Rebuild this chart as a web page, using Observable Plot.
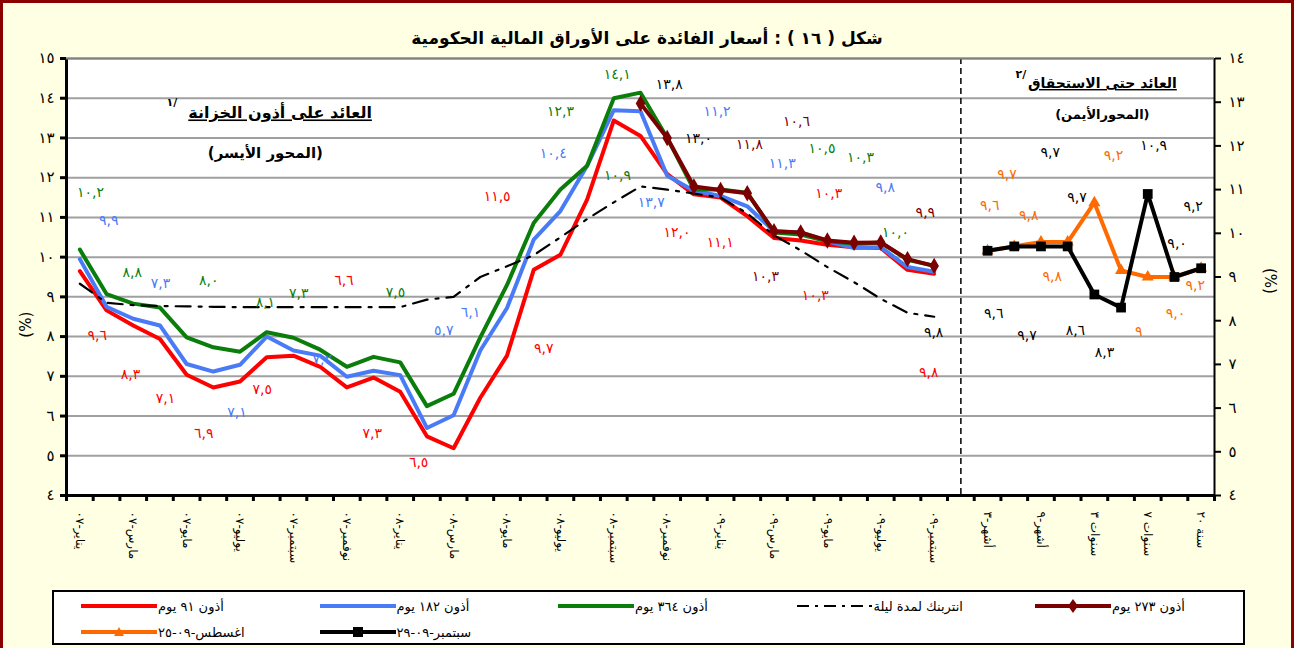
<!DOCTYPE html>
<html><head><meta charset="utf-8">
<script src="https://cdn.jsdelivr.net/npm/d3@7"></script>
<script src="https://cdn.jsdelivr.net/npm/@observablehq/plot@0.6"></script>
<style>
body{margin:0;background:#fff;}
#bg{position:absolute;left:0;top:0;width:1294px;height:648px;box-sizing:border-box;background:#FFFFE3;border:3px solid #8B0000;border-bottom:none;}
#title{position:absolute;left:0;top:27px;width:1294px;text-align:center;font:bold 17px "DejaVu Sans",sans-serif;line-height:22px;direction:rtl;}
#chart{position:absolute;left:0;top:50px;}
#legend{position:absolute;left:52px;top:590px;width:1193px;height:55px;box-sizing:border-box;border:2px solid #000;background:#fff;font:13px "DejaVu Sans",sans-serif;}
.item{position:absolute;height:16px;display:flex;align-items:center;white-space:nowrap;}
.item span{direction:rtl;}
</style></head><body>
<div id="bg"></div>
<div id="title">شكل ( ١٦ ) : أسعار الفائدة على الأوراق المالية الحكومية</div>
<div id="chart"></div>
<div id="legend"></div>
<script>
// ---------- data ----------
const months = ["يناير-٠٧","فبراير-٠٧","مارس-٠٧","أبريل-٠٧","مايو-٠٧","يونيو-٠٧","يوليو-٠٧","أغسطس-٠٧","سبتمبر-٠٧","أكتوبر-٠٧","نوفمبر-٠٧","ديسمبر-٠٧",
  "يناير-٠٨","فبراير-٠٨","مارس-٠٨","أبريل-٠٨","مايو-٠٨","يونيو-٠٨","يوليو-٠٨","أغسطس-٠٨","سبتمبر-٠٨","أكتوبر-٠٨","نوفمبر-٠٨","ديسمبر-٠٨",
  "يناير-٠٩","فبراير-٠٩","مارس-٠٩","أبريل-٠٩","مايو-٠٩","يونيو-٠٩","يوليو-٠٩","أغسطس-٠٩","سبتمبر-٠٩"];
const tb91  = [9.65,8.66,8.28,7.94,7.04,6.72,6.87,7.48,7.52,7.24,6.72,6.97,6.61,5.49,5.19,6.46,7.52,9.68,10.06,11.45,13.44,13.05,12.09,11.58,11.5,11.03,10.48,10.42,10.31,10.25,10.23,9.68,9.58];
const tb182 = [9.95,8.75,8.45,8.28,7.31,7.12,7.29,8.0,7.65,7.52,6.99,7.14,7.03,5.7,6.02,7.65,8.72,10.44,11.16,12.3,13.7,13.67,12.05,11.67,11.54,11.28,10.65,10.62,10.4,10.23,10.25,9.75,9.63];
const tb364 = [10.19,9.07,8.83,8.73,7.98,7.73,7.62,8.11,7.97,7.67,7.24,7.49,7.35,6.25,6.56,7.98,9.3,10.86,11.7,12.3,14.0,14.14,13.0,11.7,11.7,11.62,10.62,10.57,10.4,10.34,10.37,9.93,9.78];
const tb273 = [null,null,null,null,null,null,null,null,null,null,null,null,null,null,null,null,null,null,null,null,null,13.87,13.0,11.78,11.69,11.61,10.65,10.62,10.42,10.36,10.37,9.95,9.78];
const interbank = [9.33,8.85,8.79,8.77,8.76,8.75,8.74,8.74,8.74,8.74,8.74,8.74,8.74,8.93,9.0,9.5,9.77,10.05,10.5,10.96,11.38,11.78,11.7,11.6,11.5,11.1,10.55,10.17,9.75,9.37,8.95,8.6,8.5];

const maturities = ["أشهر-٣","أشهر-٦","أشهر-٩","سنة-١","سنوات ٣","سنوات ٥","سنوات ٧","سنوات ١٠","سنة ٢٠"];
const aug09 = [9.6,9.7,9.8,9.8,10.7,9.15,9.0,9.0,9.2];
const sep09 = [9.6,9.7,9.7,9.7,8.6,8.3,10.9,9.0,9.2];

const leftTicks = [4,5,6,7,8,9,10,11,12,13,14,15];
const rightTicks = [4,5,6,7,8,9,10,11,12,13,14];

// data labels as written on the chart: [position index, level, text]
const lblGreen = [[0.90,11.63,"١٠,٢"],[2.46,9.62,"٨,٨"],[5.33,9.41,"٨,٠"],[7.45,8.87,"٨,١"],[8.70,9.08,"٧,٣"],[12.32,9.12,"٧,٥"],
  [18.50,13.67,"١٢,٣"],[20.63,14.60,"١٤,١"],[20.64,12.05,"١٠,٩"],[28.30,12.73,"١٠,٥"],[29.74,12.51,"١٠,٣"],[31.05,10.63,"١٠,٠"]];
const lblBlue = [[1.58,10.92,"٩,٩"],[3.52,9.33,"٧,٣"],[6.39,6.10,"٧,١"],[9.58,7.42,"٧,٢"],[14.13,8.15,"٥,٧"],[15.13,8.61,"٦,١"],
  [18.23,12.62,"١٠,٤"],[24.37,13.67,"١١,٢"],[21.90,11.38,"١٣,٧"],[26.81,12.35,"١١,٣"],[30.67,11.76,"٩,٨"]];
const lblRed = [[1.15,8.03,"٩,٦"],[2.40,7.05,"٨,٣"],[3.71,6.43,"٧,١"],[5.14,5.55,"٦,٩"],[7.33,6.66,"٧,٥"],[10.39,9.41,"٦,٦"],
  [11.45,5.55,"٧,٣"],[13.19,4.84,"٦,٥"],[16.13,11.53,"١١,٥"],[17.88,7.69,"٩,٧"],[22.87,10.63,"١٢,٠"],[24.49,10.38,"١١,١"],
  [28.55,11.61,"١٠,٣"],[28.05,9.03,"١٠,٣"],[32.30,7.10,"٩,٨"]];
const lblDark = [[27.34,13.42,"١٠,٦"],[25.58,12.84,"١١,٨"],[26.18,9.50,"١٠,٣"],[32.17,11.13,"٩,٩"]];
const lblBlack = [[22.58,14.35,"١٣,٨"],[23.67,12.99,"١٣,٠"],[32.48,8.11,"٩,٨"]];
// right panel labels (levels on the right axis)
const lblSep = [[36.85,11.86,"٩,٧"],[40.72,12.01,"١٠,٩"],[37.85,10.83,"٩,٧"],[42.20,10.61,"٩,٢"],[41.60,9.77,"٩,٠"],
  [34.73,8.16,"٩,٦"],[35.98,7.66,"٩,٧"],[37.79,7.78,"٨,٦"],[38.88,7.28,"٨,٣"]];
const lblAug = [[39.22,11.78,"٩,٢"],[35.23,11.35,"٩,٧"],[34.58,10.64,"٩,٦"],[36.04,10.41,"٩,٨"],[36.92,9.01,"٩,٨"],
  [42.28,8.81,"٩,٢"],[40.16,7.76,"٩"],[41.54,8.16,"٩,٠"]];

// ---------- helpers ----------
const AR = "٠١٢٣٤٥٦٧٨٩";
const ar = n => String(n).replace(/[0-9]/g, d => AR[+d]).replace(".", ",");
const nMonths = months.length;           // 33
const gap = 1;                           // empty slot holding the divider
const rightStart = nMonths + gap;        // 34
const nSlots = rightStart + maturities.length; // 43
const toLeft = v => 4 + (v - 4) * (15 - 4) / (14 - 4);
const fromLeft = v => 4 + (v - 4) * (14 - 4) / (15 - 4);
const series = (vals, off = 0, f = v => v) => vals.map((v, i) => ({x: off + i + 0.5, y: v == null ? null : f(v)})).filter(d => d.y != null);

const C = {red:"#FF0000", blue:"#4A7BF7", green:"#0A7D0A", dark:"#7B0000", orange:"#FF6A00", black:"#000000"};

const xLabels = [
  ...months.map((m, i) => ({x: i + 0.5, t: m})).filter((d, i) => i % 2 === 0),
  ...maturities.map((m, i) => ({x: rightStart + i + 0.5, t: m})).filter((d, i) => i % 2 === 0)
];

const txt = (arr, color, f = v => v) => Plot.text(arr, {x: d => d[0], y: d => f(d[1]), text: d => d[2], fill: color, fontSize: 14, fontFamily: "DejaVu Sans"});

const chart = Plot.plot({
  width: 1294, height: 540,
  marginLeft: 66, marginRight: 80, marginTop: 8, marginBottom: 95,
  x: {domain: [0, nSlots], axis: null},
  y: {domain: [4, 15], axis: null},
  style: {background: "transparent", fontFamily: "DejaVu Sans"},
  marks: [
    Plot.frame({fill: "white", stroke: null}),
    Plot.ruleY(leftTicks.slice(1), {stroke: "#A0A0A0", strokeWidth: 2}),
    Plot.ruleX([nMonths + gap / 2], {stroke: "black", strokeWidth: 1.5, strokeDasharray: "6,4"}),
    // left panel
    Plot.line(series(tb91), {x: "x", y: "y", stroke: C.red, strokeWidth: 4}),
    Plot.line(series(tb182), {x: "x", y: "y", stroke: C.blue, strokeWidth: 4}),
    Plot.line(series(tb364), {x: "x", y: "y", stroke: C.green, strokeWidth: 4}),
    Plot.line(series(interbank), {x: "x", y: "y", stroke: "black", strokeWidth: 2.2, strokeDasharray: "15,8,3,8"}),
    Plot.line(series(tb273), {x: "x", y: "y", stroke: C.dark, strokeWidth: 4}),
    Plot.dot(series(tb273), {x: "x", y: "y", symbol: "diamond", r: 5, fill: C.dark}),
    // right panel
    Plot.line(series(aug09, rightStart, toLeft), {x: "x", y: "y", stroke: C.orange, strokeWidth: 4}),
    Plot.dot(series(aug09, rightStart, toLeft), {x: "x", y: "y", symbol: "triangle", r: 4.5, fill: C.orange}),
    Plot.line(series(sep09, rightStart, toLeft), {x: "x", y: "y", stroke: "black", strokeWidth: 4}),
    Plot.dot(series(sep09, rightStart, toLeft), {x: "x", y: "y", symbol: "square", r: 5.5, fill: "black"}),
    // axes
    Plot.ruleX([0], {stroke: "black", strokeWidth: 3}),
    Plot.ruleX([nSlots], {stroke: "black", strokeWidth: 2}),
    Plot.ruleY([15], {stroke: "#808080", strokeWidth: 2}),
    Plot.axisY(leftTicks, {anchor: "left", tickFormat: ar, tickSize: 6, tickPadding: 6, fontSize: 15, strokeWidth: 3, label: null}),
    Plot.axisY(rightTicks.map(toLeft), {anchor: "right", tickFormat: d => ar(Math.round(fromLeft(d))), tickSize: 6, tickPadding: 8, fontSize: 15, strokeWidth: 2, label: null}),
    Plot.axisX(d3.range(0, nSlots + 1), {anchor: "bottom", tickSize: 6, strokeWidth: 3, tickFormat: () => "", label: null}),
    Plot.ruleY([4], {stroke: "black", strokeWidth: 3}),
    Plot.text(xLabels, {x: "x", y: 4, text: "t", rotate: 90, textAnchor: "start", dy: 16, fontSize: 12}),
    Plot.text(["(%)"], {x: 0, y: 8.3, dx: -40, rotate: -90, fontSize: 15}),
    Plot.text(["(%)"], {x: nSlots, y: 9.4, dx: 55, rotate: 90, fontSize: 15}),
    // panel titles
    Plot.text(["العائد على أذون الخزانة"], {x: 8.0, y: 13.62, fontSize: 16, fontWeight: "bold"}),
    Plot.text(["١/"], {x: 3.95, y: 13.9, fontSize: 11, fontWeight: "bold"}),
    Plot.text(["(المحور الأيسر)"], {x: 7.45, y: 12.61, fontSize: 15, fontWeight: "bold"}),
    Plot.text(["العائد حتى الاستحقاق"], {x: 38.8, y: 14.37, fontSize: 14, fontWeight: "bold"}),
    Plot.text(["٢/"], {x: 35.75, y: 14.6, fontSize: 11, fontWeight: "bold"}),
    Plot.text(["(المحورالأيمن)"], {x: 38.8, y: 13.57, fontSize: 13, fontWeight: "bold"}),
    // data labels
    txt(lblGreen, C.green), txt(lblBlue, C.blue), txt(lblRed, C.red), txt(lblDark, C.dark), txt(lblBlack, "black"),
    txt(lblSep, "black", toLeft), txt(lblAug, C.orange, toLeft)
  ]
});
d3.select(chart).selectAll("text").filter(function() { return this.textContent.startsWith("العائد"); })
  .style("text-decoration", "underline");
document.getElementById("chart").appendChild(chart);

// ---------- legend ----------
const legendItems = [
  {name: "أذون ٩١ يوم", color: C.red, col: 0, row: 0},
  {name: "أذون ١٨٢ يوم", color: C.blue, col: 1, row: 0},
  {name: "أذون ٣٦٤ يوم", color: C.green, col: 2, row: 0},
  {name: "انتربنك لمدة ليلة", color: "black", dash: "12,6,3,6", w: 2.2, col: 3, row: 0},
  {name: "أذون ٢٧٣ يوم", color: C.dark, marker: "diamond", col: 4, row: 0},
  {name: "اغسطس-٠٩-٢٥", color: C.orange, marker: "triangle", col: 0, row: 1},
  {name: "سبتمبر-٠٩-٢٩", color: "black", marker: "square", col: 1, row: 1}
];
const lg = document.getElementById("legend");
legendItems.forEach(it => {
  const d = document.createElement("div");
  d.className = "item";
  d.style.left = (26 + it.col * 238.5) + "px";
  d.style.top = (6 + it.row * 26) + "px";
  let m = "";
  if (it.marker === "diamond") m = `<path d="M39,1 L44,8 L39,15 L34,8Z" fill="${it.color}"/>`;
  if (it.marker === "triangle") m = `<path d="M39,3 L44,12 L34,12Z" fill="${it.color}"/>`;
  if (it.marker === "square") m = `<rect x="34" y="3" width="10" height="10" fill="${it.color}"/>`;
  d.innerHTML = `<svg width="78" height="16"><line x1="1" x2="77" y1="8" y2="8" stroke="${it.color}" stroke-width="${it.w || 4}" ${it.dash ? `stroke-dasharray="${it.dash}"` : ""}/>${m}</svg><span>${it.name}</span>`;
  lg.appendChild(d);
});
</script>
</body></html>
